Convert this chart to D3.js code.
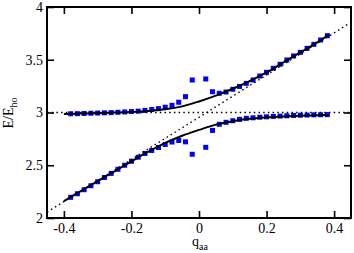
<!DOCTYPE html>
<html>
<head>
<meta charset="utf-8">
<script src="https://cdn.jsdelivr.net/npm/d3@7"></script>
<style>
  body { margin: 0; background: #fff; }
  svg { display: block; }
  text { font-family: "Liberation Serif", "DejaVu Serif", serif; fill: #000; }
</style>
</head>
<body>
<svg id="chart" width="354" height="253"></svg>
<script>
// q values of the blue squares (no point at q = 0)
const qPts = [-0.38,-0.36,-0.34,-0.32,-0.30,-0.28,-0.26,-0.24,-0.22,-0.20,-0.18,-0.16,-0.14,-0.12,-0.10,-0.08,-0.06,-0.04,-0.02,
              0.02,0.04,0.06,0.08,0.10,0.12,0.14,0.16,0.18,0.20,0.22,0.24,0.26,0.28,0.30,0.32,0.34,0.36,0.38];
const upperPts = [2.988,2.989,2.991,2.993,2.995,2.997,2.999,3.002,3.005,3.009,3.013,3.020,3.028,3.037,3.050,3.068,3.097,3.150,3.308,
                  3.318,3.197,3.182,3.194,3.220,3.247,3.276,3.308,3.346,3.381,3.419,3.457,3.498,3.536,3.570,3.608,3.646,3.687,3.728];
const lowerPts = [2.196,2.230,2.268,2.306,2.344,2.384,2.423,2.462,2.500,2.538,2.576,2.612,2.640,2.668,2.697,2.720,2.735,2.722,2.604,
                  2.670,2.830,2.888,2.907,2.922,2.935,2.945,2.950,2.955,2.959,2.963,2.966,2.969,2.972,2.974,2.976,2.978,2.979,2.980];

// solid curves
const qCurve = [-0.4,-0.35,-0.3,-0.25,-0.2,-0.15,-0.1,-0.05,0,0.05,0.1,0.15,0.2,0.25,0.3,0.35,0.385];
const upperCurve = [2.985,2.990,2.994,2.999,3.005,3.015,3.030,3.058,3.105,3.160,3.225,3.298,3.380,3.475,3.570,3.665,3.735];
const lowerCurve = [2.160,2.255,2.350,2.443,2.537,2.628,2.712,2.780,2.835,2.885,2.918,2.940,2.953,2.962,2.969,2.974,2.977];

// dotted reference lines
const qDotted = [-0.45, 0.45];
const diagDotted = [2.055, 3.855];
const flatDotted = [3, 3];

const xTicks = [-0.4, -0.2, 0, 0.2, 0.4];
const yTicks = [2, 2.5, 3, 3.5, 4];

const M = {LEFT:47, TOP:7, RIGHT:351, BOTTOM:218};

const svg = d3.select("#chart");
const x = d3.scaleLinear().domain([-0.45, 0.45]).range([M.LEFT, M.RIGHT]);
const y = d3.scaleLinear().domain([2, 4]).range([M.BOTTOM, M.TOP]);

// squares
const pts = qPts.map((q,i)=>[q, upperPts[i]]).concat(qPts.map((q,i)=>[q, lowerPts[i]]));
svg.append("g").selectAll("rect")
   .data(pts)
   .join("rect")
   .attr("x", d=>x(d[0])-2.5)
   .attr("y", d=>y(d[1])-2.5)
   .attr("width", 5)
   .attr("height", 5)
   .attr("fill", "#0000ff");

const line = d3.line().x(d=>x(d[0])).y(d=>y(d[1]));

// dotted lines
[diagDotted, flatDotted].forEach(function(vals){
  svg.append("path")
     .attr("d", line(qDotted.map((q,i)=>[q, vals[i]])))
     .attr("fill", "none")
     .attr("stroke", "#000")
     .attr("stroke-width", 1.4)
     .attr("stroke-dasharray", "1.5,3.2");
});

// solid lines
const smooth = d3.line().x(d=>x(d[0])).y(d=>y(d[1])).curve(d3.curveMonotoneX);
[upperCurve, lowerCurve].forEach(function(vals){
  svg.append("path")
     .attr("d", smooth(qCurve.map((q,i)=>[q, vals[i]])))
     .attr("fill", "none")
     .attr("stroke", "#000")
     .attr("stroke-width", 2);
});

// axes, ticks pointing inward
const fmt = d => String(d);
function styleAxis(g){
  g.select(".domain").remove();
  g.selectAll(".tick line").attr("stroke-width", 1.6);
  g.selectAll("text").attr("font-size", 14).attr("font-family", "Liberation Serif, serif");
}
svg.append("g").attr("transform", "translate(0,"+M.BOTTOM+")")
   .call(d3.axisBottom(x).tickValues(xTicks).tickSizeInner(-7).tickSizeOuter(0).tickPadding(5).tickFormat(fmt))
   .call(styleAxis);
svg.append("g").attr("transform", "translate(0,"+M.TOP+")")
   .call(d3.axisTop(x).tickValues(xTicks).tickSizeInner(-7).tickSizeOuter(0).tickFormat(""))
   .call(styleAxis);
svg.append("g").attr("transform", "translate("+M.LEFT+",0)")
   .call(d3.axisLeft(y).tickValues(yTicks).tickSizeInner(-7).tickSizeOuter(0).tickPadding(4).tickFormat(fmt))
   .call(styleAxis);
svg.append("g").attr("transform", "translate("+M.RIGHT+",0)")
   .call(d3.axisRight(y).tickValues(yTicks).tickSizeInner(-7).tickSizeOuter(0).tickFormat(""))
   .call(styleAxis);

// frame
svg.append("rect")
   .attr("x", M.LEFT).attr("y", M.TOP)
   .attr("width", M.RIGHT-M.LEFT).attr("height", M.BOTTOM-M.TOP)
   .attr("fill", "none").attr("stroke", "#000").attr("stroke-width", 2);

// axis titles
const xt = svg.append("text")
   .attr("x", 200).attr("y", 246)
   .attr("text-anchor", "middle")
   .attr("font-size", 14);
xt.append("tspan").text("q");
xt.append("tspan").attr("font-size", 10).attr("dy", 4).text("aa");

const yt = svg.append("text")
   .attr("transform", "translate(13,113) rotate(-90)")
   .attr("text-anchor", "middle")
   .attr("font-size", 14);
yt.append("tspan").text("E/E");
yt.append("tspan").attr("font-size", 10).attr("dy", 4).text("ho");
</script>
</body>
</html>
